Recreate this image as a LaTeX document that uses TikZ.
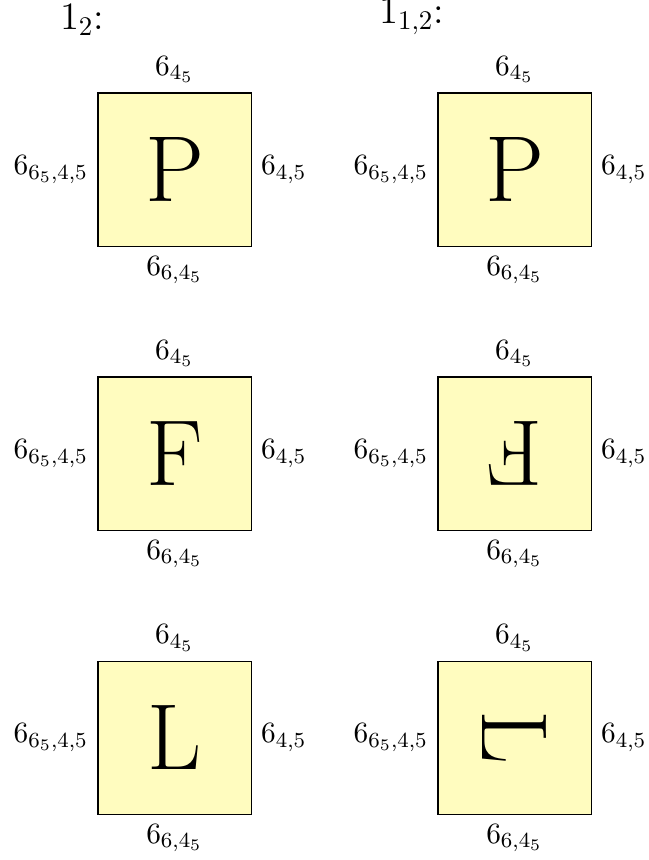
\documentclass[tikz,border=0pt]{standalone}
\usepackage{amsmath}
\usepackage{tikz}

\begin{document}
\begin{tikzpicture}[
  tile/.style={draw, fill=yellow!25, minimum size=2cm, inner sep=0pt},
  glyph/.style={font=\fontsize{34.83}{40}\selectfont, inner sep=0pt},
  side/.style={font=\fontsize{10.95}{13.6}\selectfont},
  title/.style={font=\Large, anchor=south east, inner sep=0pt}]
\useasboundingbox (-2.28,-9.021) rectangle (6.186,2.2145);

% titles
\node[title] (t1) at (-0.91,1.75) {$1_2$:};
\node[title] (t2) at (3.532,1.75) {$1_{1,2}$:};

% P, left
\node[tile] (pl) at (0,0) {};
\node[glyph] (pl-c) at (pl) {P};
\node[above, side] (pl-n) at (pl.north) {$6_{4_5}$};
\node[below, side] (pl-s) at (pl.south) {$6_{6,4_5}$};
\node[left, side] (pl-w) at (pl.west) {$6_{6_5,4,5}$};
\node[right, side] (pl-e) at (pl.east) {$6_{4,5}$};

% P, right
\node[tile] (pr) at (4.442,0) {};
\node[glyph] (pr-c) at (pr) {P};
\node[above, side] (pr-n) at (pr.north) {$6_{4_5}$};
\node[below, side] (pr-s) at (pr.south) {$6_{6,4_5}$};
\node[left, side] (pr-w) at (pr.west) {$6_{6_5,4,5}$};
\node[right, side] (pr-e) at (pr.east) {$6_{4,5}$};

% F, left
\node[tile] (fl) at (0,-3.711) {};
\node[glyph] (fl-c) at (fl) {F};
\node[above, side] (fl-n) at (fl.north) {$6_{4_5}$};
\node[below, side] (fl-s) at (fl.south) {$6_{6,4_5}$};
\node[left, side] (fl-w) at (fl.west) {$6_{6_5,4,5}$};
\node[right, side] (fl-e) at (fl.east) {$6_{4,5}$};

% F, right (turned)
\node[tile] (fr) at (4.442,-3.711) {};
\node[glyph, rotate=180] (fr-c) at (fr) {F};
\node[above, side] (fr-n) at (fr.north) {$6_{4_5}$};
\node[below, side] (fr-s) at (fr.south) {$6_{6,4_5}$};
\node[left, side] (fr-w) at (fr.west) {$6_{6_5,4,5}$};
\node[right, side] (fr-e) at (fr.east) {$6_{4,5}$};

% L, left
\node[tile] (ll) at (0,-7.422) {};
\node[glyph] (ll-c) at (ll) {L};
\node[above, side] (ll-n) at (ll.north) {$6_{4_5}$};
\node[below, side] (ll-s) at (ll.south) {$6_{6,4_5}$};
\node[left, side] (ll-w) at (ll.west) {$6_{6_5,4,5}$};
\node[right, side] (ll-e) at (ll.east) {$6_{4,5}$};

% L, right (turned)
\node[tile] (lr) at (4.442,-7.422) {};
\node[glyph, rotate=-90] (lr-c) at (lr) {L};
\node[above, side] (lr-n) at (lr.north) {$6_{4_5}$};
\node[below, side] (lr-s) at (lr.south) {$6_{6,4_5}$};
\node[left, side] (lr-w) at (lr.west) {$6_{6_5,4,5}$};
\node[right, side] (lr-e) at (lr.east) {$6_{4,5}$};
\end{tikzpicture}
\end{document}
